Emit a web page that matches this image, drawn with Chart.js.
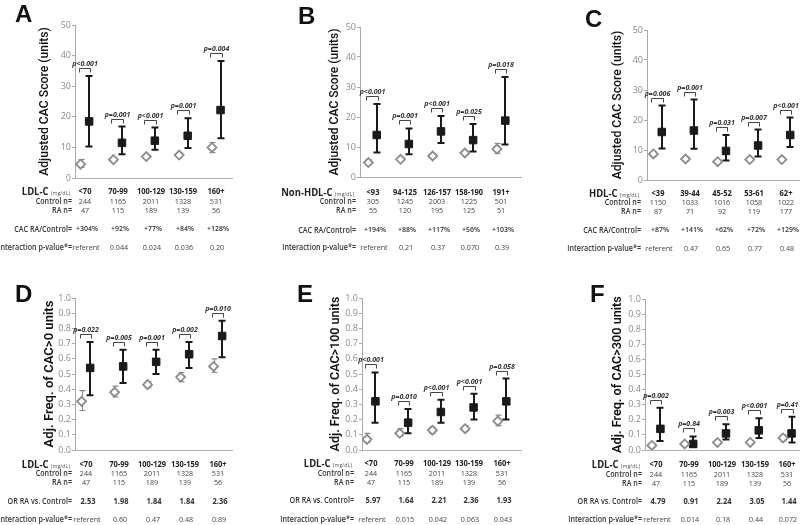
<!DOCTYPE html>
<html><head><meta charset="utf-8">
<script src="https://cdn.jsdelivr.net/npm/chart.js@4.4.0/dist/chart.umd.min.js"></script>
<style>
html,body{margin:0;padding:0;background:#fff;}
#wrap{position:relative;width:800px;height:525px;overflow:hidden;background:#fff;font-family:"Open Sans",sans-serif;}
canvas{position:absolute;}
.t{position:absolute;white-space:nowrap;line-height:1;color:#333;font-size:8px;}
.r{transform-origin:100% 50%;}
.c{transform-origin:50% 50%;}
.letter{position:absolute;font-family:"Liberation Sans",Arial,sans-serif;font-weight:bold;font-size:24px;line-height:1;color:#111;}
</style></head><body><div id="wrap"></div>
<script>
// ---------- categories / counts ----------
const ldlCategories = ['<70','70-99','100-129','130-159','160+'];
const ldlControlN = ['244','1165','2011','1328','531'];
const ldlRaN = ['47','115','189','139','56'];
const nonHdlCategories = ['<93','94-125','126-157','158-190','191+'];
const nonHdlControlN = ['305','1245','2003','1225','501'];
const nonHdlRaN = ['55','120','195','125','51'];
const hdlCategories = ['<39','39-44','45-52','53-61','62+'];
const hdlControlN = ['1150','1033','1016','1058','1022'];
const hdlRaN = ['87','71','92','119','177'];

// ---------- table rows ----------
const aRatio = ['+304%','+92%','+77%','+84%','+128%'];
const aInteraction = ['referent','0.044','0.024','0.036','0.20'];
const bRatio = ['+194%','+88%','+117%','+56%','+103%'];
const bInteraction = ['referent','0.21','0.37','0.070','0.39'];
const cRatio = ['+87%','+141%','+62%','+72%','+129%'];
const cInteraction = ['referent','0.47','0.65','0.77','0.48'];
const dOR = ['2.53','1.98','1.84','1.84','2.36'];
const dInteraction = ['referent','0.60','0.47','0.48','0.89'];
const eOR = ['5.97','1.64','2.21','2.36','1.93'];
const eInteraction = ['referent','0.015','0.042','0.063','0.043'];
const fOR = ['4.79','0.91','2.24','3.05','1.44'];
const fInteraction = ['referent','0.014','0.18','0.44','0.072'];

// ---------- panel A ----------
const aControl   = [4.5, 6.0, 7.0, 7.5, 10.0];
const aControlLo = [3.5, 5.4, 6.4, 6.8, 8.3];
const aControlHi = [6.0, 6.7, 7.6, 8.3, 11.6];
const aRA   = [18.5, 11.5, 12.2, 13.8, 22.2];
const aRALo = [10.3, 7.8, 9.2, 9.8, 13.0];
const aRAHi = [33.3, 16.8, 16.5, 19.5, 38.2];
const aP = ['p<0.001','p=0.001','p<0.001','p=0.001','p=0.004'];
// ---------- panel B ----------
const bControl   = [4.8, 5.9, 7.0, 8.0, 9.3];
const bControlLo = [4.0, 5.4, 6.5, 7.3, 7.9];
const bControlHi = [5.8, 6.5, 7.6, 8.7, 11.2];
const bRA   = [14.0, 11.0, 15.2, 12.3, 18.8];
const bRALo = [8.2, 7.6, 11.3, 8.5, 10.8];
const bRAHi = [24.3, 16.2, 20.3, 17.7, 33.3];
const bP = ['p<0.001','p=0.001','p<0.001','p=0.025','p=0.018'];
// ---------- panel C ----------
const cControl   = [8.7, 7.0, 6.1, 6.8, 6.8];
const cControlLo = [7.9, 6.5, 5.6, 6.3, 6.3];
const cControlHi = [9.5, 7.6, 6.7, 7.4, 7.3];
const cRA   = [16.0, 16.5, 9.7, 11.5, 15.0];
const cRALo = [10.5, 10.4, 6.5, 7.8, 11.0];
const cRAHi = [24.8, 26.8, 15.0, 16.8, 20.8];
const cP = ['p=0.006','p=0.001','p=0.031','p=0.007','p<0.001'];
// ---------- panel D ----------
const dControl   = [0.32, 0.38, 0.43, 0.48, 0.55];
const dControlLo = [0.26, 0.35, 0.41, 0.45, 0.51];
const dControlHi = [0.39, 0.42, 0.45, 0.51, 0.60];
const dRA   = [0.54, 0.55, 0.58, 0.63, 0.75];
const dRALo = [0.36, 0.44, 0.50, 0.54, 0.61];
const dRAHi = [0.71, 0.66, 0.66, 0.71, 0.85];
const dP = ['p=0.022','p=0.005','p=0.001','p=0.002','p=0.010'];
// ---------- panel E ----------
const eControl   = [0.07, 0.11, 0.13, 0.14, 0.19];
const eControlLo = [0.05, 0.09, 0.11, 0.12, 0.16];
const eControlHi = [0.11, 0.14, 0.15, 0.16, 0.23];
const eRA   = [0.32, 0.18, 0.25, 0.28, 0.32];
const eRALo = [0.18, 0.11, 0.18, 0.20, 0.20];
const eRAHi = [0.51, 0.27, 0.33, 0.37, 0.47];
const eP = ['p<0.001','p=0.010','p<0.001','p<0.001','p=0.058'];
// ---------- panel F ----------
const fControl   = [0.03, 0.04, 0.05, 0.05, 0.08];
const fControlLo = [0.02, 0.03, 0.04, 0.04, 0.06];
const fControlHi = [0.04, 0.05, 0.06, 0.06, 0.10];
const fRA   = [0.14, 0.04, 0.11, 0.13, 0.11];
const fRALo = [0.06, 0.02, 0.07, 0.08, 0.05];
const fRAHi = [0.28, 0.09, 0.17, 0.21, 0.22];
const fP = ['p=0.002','p=0.84','p=0.003','p<0.001','p=0.41'];

const panels = [
 {letter:'A', letterX:15, letterY:2, axisX:75, plotTop:25, plotBottom:178, plotRight:233, xMin:-0.3, xMax:4.5, yMax:50, yStep:10, dec:0,
  title:'Adjusted CAC Score (units)', titleX:45, titleLen:149, titleWeight:'500',
  varName:'LDL-C', cats:ldlCategories, ctrlN:ldlControlN, raN:ldlRaN, ratioLabel:'CAC RA/Control=', ratio:aRatio, ratioBold:false, inter:aInteraction,
  rows:[191,201,210,229,247], labelRight:72,
  ctrl:aControl, ctrlLo:aControlLo, ctrlHi:aControlHi, ra:aRA, raLo:aRALo, raHi:aRAHi, p:aP},
 {letter:'B', letterX:298, letterY:4, axisX:360, plotTop:27, plotBottom:177, plotRight:522, xMin:-0.39, xMax:4.64, yMax:50, yStep:10, dec:0,
  title:'Adjusted CAC Score (units)', titleX:335, titleLen:147, titleWeight:'500',
  varName:'Non-HDL-C', cats:nonHdlCategories, ctrlN:nonHdlControlN, raN:nonHdlRaN, ratioLabel:'CAC RA/Control=', ratio:bRatio, ratioBold:false, inter:bInteraction,
  rows:[192,201,210,230,247], labelRight:356,
  ctrl:bControl, ctrlLo:bControlLo, ctrlHi:bControlHi, ra:bRA, raLo:bRALo, raHi:bRAHi, p:bP},
 {letter:'C', letterX:585, letterY:7, axisX:647, plotTop:30, plotBottom:180, plotRight:804, xMin:-0.33, xMax:4.55, yMax:50, yStep:10, dec:0,
  title:'Adjusted CAC Score (units)', titleX:618, titleLen:149, titleWeight:'500',
  varName:'HDL-C', cats:hdlCategories, ctrlN:hdlControlN, raN:hdlRaN, ratioLabel:'CAC RA/Control=', ratio:cRatio, ratioBold:false, inter:cInteraction,
  rows:[193,202,211,230,248], labelRight:641,
  ctrl:cControl, ctrlLo:cControlLo, ctrlHi:cControlHi, ra:cRA, raLo:cRALo, raHi:cRAHi, p:cP},
 {letter:'D', letterX:15, letterY:282, axisX:75, plotTop:298, plotBottom:450, plotRight:233, xMin:-0.33, xMax:4.45, yMax:1, yStep:0.1, dec:1,
  title:'Adj. Freq. of CAC>0 units', titleX:50, titleLen:147, titleWeight:'600',
  varName:'LDL-C', cats:ldlCategories, ctrlN:ldlControlN, raN:ldlRaN, ratioLabel:'OR RA vs. Control=', ratio:dOR, ratioBold:true, inter:dInteraction,
  rows:[464,473,482,501,519], labelRight:72,
  ctrl:dControl, ctrlLo:dControlLo, ctrlHi:dControlHi, ra:dRA, raLo:dRALo, raHi:dRAHi, p:dP},
 {letter:'E', letterX:297, letterY:282, axisX:362, plotTop:298, plotBottom:450, plotRight:522, xMin:-0.28, xMax:4.6, yMax:1, yStep:0.1, dec:1,
  title:'Adj. Freq. of CAC>100 units', titleX:336, titleLen:155, titleWeight:'600',
  varName:'LDL-C', cats:ldlCategories, ctrlN:ldlControlN, raN:ldlRaN, ratioLabel:'OR RA vs. Control=', ratio:eOR, ratioBold:true, inter:eInteraction,
  rows:[463,473,482,500,519], labelRight:354,
  ctrl:eControl, ctrlLo:eControlLo, ctrlHi:eControlHi, ra:eRA, raLo:eRALo, raHi:eRAHi, p:eP},
 {letter:'F', letterX:590, letterY:282, axisX:645, plotTop:299, plotBottom:450, plotRight:804, xMin:-0.34, xMax:4.5, yMax:1, yStep:0.1, dec:1,
  title:'Adj. Freq. of CAC>300 units', titleX:618, titleLen:157, titleWeight:'600',
  varName:'LDL-C', cats:ldlCategories, ctrlN:ldlControlN, raN:ldlRaN, ratioLabel:'OR RA vs. Control=', ratio:fOR, ratioBold:true, inter:fInteraction,
  rows:[464,474,483,501,519], labelRight:642,
  ctrl:fControl, ctrlLo:fControlLo, ctrlHi:fControlHi, ra:fRA, raLo:fRALo, raHi:fRAHi, p:fP}
];

const OFF = 0.13;
const FAMILY = '"Open Sans", sans-serif';
const TITLE_FAMILY = 'Roboto, "Open Sans", sans-serif';
const mctx = document.createElement('canvas').getContext('2d');
function measure(text, weight, size, family) {
  mctx.font = weight + ' ' + size + 'px ' + family;
  return mctx.measureText(text).width;
}
function fitSize(text, weight, target, family) {
  return 100 * target / measure(text, weight, 100, family);
}
// table text: fixed size, horizontally condensed so the longest label fits like the reference
const TS = 7.6;
const SX = Math.min(1, 70 / measure('Interaction p-value*=', 600, TS, FAMILY));
const wrap = document.getElementById('wrap');

function addText(html, x, y, align, css) {
  const d = document.createElement('div');
  d.className = 't ' + align;
  d.style.left = x + 'px';
  d.style.top = y + 'px';
  if (css) d.style.cssText += css;
  d.style.transform = (align === 'r' ? 'translate(-100%,-50%)' : 'translate(-50%,-50%)') + ' scaleX(' + SX + ')';
  d.innerHTML = html;
  wrap.appendChild(d);
  return d;
}
function esc(s){return s.replace(/&/g,'&amp;').replace(/</g,'&lt;').replace(/>/g,'&gt;');}

function makePlugin(p) {
  return {
    id: 'err' + p.letter,
    beforeDatasetsDraw(chart) {
      const ctx = chart.ctx, xs = chart.scales.x, ys = chart.scales.y;
      ctx.save();
      const bar = (x, lo, hi, col, lw, cap) => {
        const yl = ys.getPixelForValue(lo), yh = ys.getPixelForValue(hi);
        ctx.strokeStyle = col; ctx.lineWidth = lw;
        ctx.beginPath();
        ctx.moveTo(x, yl); ctx.lineTo(x, yh);
        ctx.moveTo(x - cap, yl); ctx.lineTo(x + cap, yl);
        ctx.moveTo(x - cap, yh); ctx.lineTo(x + cap, yh);
        ctx.stroke();
      };
      for (let i = 0; i < p.ctrl.length; i++) {
        bar(Math.round(xs.getPixelForValue(i - OFF)) + 0.5, p.ctrlLo[i], p.ctrlHi[i], '#8c8c8c', 1.2, 3);
        bar(Math.round(xs.getPixelForValue(i + OFF)), p.raLo[i], p.raHi[i], '#1a1a1a', 2, 3.5);
      }
      ctx.restore();
    },
    afterDatasetsDraw(chart) {
      const ctx = chart.ctx, xs = chart.scales.x, ys = chart.scales.y;
      ctx.save();
      ctx.font = 'italic bold 7px ' + FAMILY;
      ctx.textAlign = 'center';
      ctx.textBaseline = 'alphabetic';
      for (let i = 0; i < p.ra.length; i++) {
        const x1 = Math.round(xs.getPixelForValue(i - OFF)) - 1.5;
        const x2 = Math.round(xs.getPixelForValue(i + OFF)) + 1.5;
        const y = Math.round(ys.getPixelForValue(p.raHi[i]) - 8) + 0.5;
        ctx.strokeStyle = '#444'; ctx.lineWidth = 1;
        ctx.beginPath();
        ctx.moveTo(x1, y + 4); ctx.lineTo(x1, y); ctx.lineTo(x2, y); ctx.lineTo(x2, y + 4);
        ctx.stroke();
        ctx.fillStyle = '#333';
        ctx.fillText(p.p[i], (x1 + x2) / 2, y - 3);
      }
      ctx.restore();
    }
  };
}

function build(p) {
  const titleSize = fitSize(p.title, p.titleWeight, p.titleLen, TITLE_FAMILY);
  const lh = titleSize * 1.2;
  const canvasLeft = p.axisX - 50;
  const padL = (p.titleX - lh / 2) - canvasLeft;
  const yw = p.axisX - canvasLeft - padL;
  const padT = 14, padB = 12, padR = 6;
  let W = (p.plotRight - p.axisX) + 50 + padR;
  let H = (p.plotBottom - p.plotTop) + padT + padB;
  const canvas = document.createElement('canvas');
  wrap.appendChild(canvas);
  const make = (w, h) => {
    canvas.width = w; canvas.height = h;
    canvas.style.width = w + 'px'; canvas.style.height = h + 'px';
    return new Chart(canvas, {
      type: 'scatter',
      data: { datasets: [
        { data: p.ctrl.map((v, i) => ({x: i - OFF, y: v})), pointStyle: 'rectRot', pointRadius: 4.5,
          backgroundColor: '#fff', borderColor: '#8c8c8c', borderWidth: 1.8, showLine: false },
        { data: p.ra.map((v, i) => ({x: i + OFF, y: v})), pointStyle: 'rect', pointRadius: 5.3,
          backgroundColor: '#1a1a1a', borderColor: '#1a1a1a', borderWidth: 1, showLine: false }
      ]},
      options: {
        responsive: false, animation: false, devicePixelRatio: 1,
        layout: { padding: { left: padL, top: padT, right: padR, bottom: padB } },
        plugins: { legend: { display: false }, tooltip: { enabled: false } },
        scales: {
          x: { type: 'linear', min: p.xMin, max: p.xMax, bounds: 'data',
               grid: { display: false }, ticks: { display: false },
               border: { display: true, color: '#b0b0b0', width: 1 },
               afterFit: s => { s.height = 0; } },
          y: { min: 0, max: p.yMax,
               ticks: { stepSize: p.yStep, color: '#8a8a8a', padding: 1,
                        font: { family: FAMILY, size: 9 },
                        callback: v => Number(v).toFixed(p.dec) },
               grid: { drawOnChartArea: false, tickLength: 3, color: '#aaa' },
               border: { display: true, color: '#aaa', width: 1 },
               title: { display: true, text: p.title, color: '#111', padding: 0,
                        font: { family: TITLE_FAMILY, size: titleSize, weight: p.titleWeight } },
               afterFit: s => { s.width = yw; } }
        }
      },
      plugins: [makePlugin(p)]
    });
  };
  let chart = make(W, H);
  let ca = chart.chartArea;
  const dh = Math.round((p.plotBottom - p.plotTop) - (ca.bottom - ca.top));
  const dw = Math.round((p.plotRight - p.axisX) - (ca.right - ca.left));
  if (dh !== 0 || dw !== 0) {
    chart.destroy();
    W += dw; H += dh;
    chart = make(W, H);
    ca = chart.chartArea;
  }
  const left = p.axisX - ca.left;
  const top = p.plotTop - ca.top;
  canvas.style.left = left + 'px';
  canvas.style.top = top + 'px';

  // panel letter
  const L = document.createElement('div');
  L.className = 'letter';
  L.style.left = p.letterX + 'px';
  L.style.top = p.letterY + 'px';
  L.textContent = p.letter;
  wrap.appendChild(L);

  // table beneath
  const colX = i => left + chart.scales.x.getPixelForValue(i);
  const [r0, r1, r2, r3, r4] = p.rows;
  addText('<span style="font-weight:700;font-size:10.5px;color:#222">' + esc(p.varName) +
          '</span> <span style="font-size:6px;color:#555">(mg/dL)</span>',
          p.labelRight - 2, r0, 'r', 'font-size:10px;');
  addText('Control n=', p.labelRight, r1, 'r', 'font-weight:600;');
  addText('RA n=', p.labelRight, r2, 'r', 'font-weight:600;');
  addText(esc(p.ratioLabel), p.labelRight, r3, 'r', 'font-weight:600;');
  addText('Interaction p-value*=', p.labelRight, r4, 'r', 'font-weight:600;');
  for (let i = 0; i < p.cats.length; i++) {
    const x = colX(i);
    addText(esc(p.cats[i]), x, r0, 'c', 'font-size:8.4px;font-weight:700;color:#222;');
    addText(p.ctrlN[i], x, r1, 'c', 'color:#444;');
    addText(p.raN[i], x, r2, 'c', 'color:#444;');
    addText(p.ratio[i], x + 2, r3, 'c', 'font-size:' + (p.ratioBold ? 8.4 : 7.8) + 'px;font-weight:' + (p.ratioBold ? 700 : 600) + ';color:#333;');
    addText(p.inter[i], x + 1, r4, 'c', 'color:#444;');
  }
}

panels.forEach(build);
</script>
</body></html>
